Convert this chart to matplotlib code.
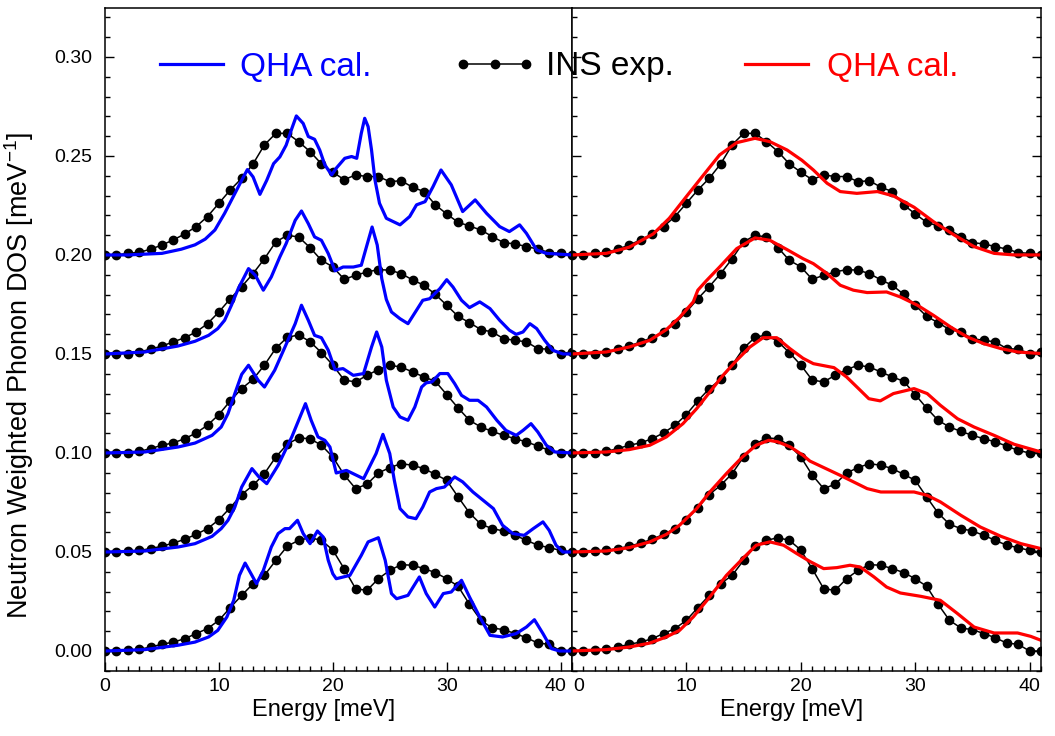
import numpy as np
import matplotlib
matplotlib.use('Agg')
import matplotlib.pyplot as plt
import matplotlib.transforms as mtransforms
from matplotlib.lines import Line2D
from matplotlib.ticker import MultipleLocator, FormatStrFormatter

plt.rcParams['font.family'] = ['Liberation Sans', 'DejaVu Sans']
plt.rcParams['mathtext.fontset'] = 'custom'
plt.rcParams['mathtext.rm'] = 'Liberation Sans'

# curves are stacked with these vertical offsets (bottom to top)
offsets = [0.0, 0.05, 0.10, 0.15, 0.20]

# INS experiment, same in both panels, one point per meV
E_exp = np.arange(0, 42)
exp_1 = [0, 0, 0.0003, 0.0008, 0.002, 0.0034, 0.0045, 0.0062, 0.0088, 0.0113, 0.0155, 0.0219, 0.0281, 0.034,
         0.0382, 0.0458, 0.0529, 0.0559, 0.0572, 0.0559, 0.051, 0.0415, 0.0315, 0.0306, 0.0365, 0.0407, 0.0436,
         0.0433, 0.0416, 0.0396, 0.0365, 0.0327, 0.0236, 0.0155, 0.0116, 0.0108, 0.0088, 0.0067, 0.004, 0.0034, 0, 0]
exp_2 = [0, 0, 0.0005, 0.0008, 0.0017, 0.0029, 0.0045, 0.0064, 0.0089, 0.0118, 0.0163, 0.0224, 0.029, 0.0337,
         0.0396, 0.048, 0.0544, 0.0576, 0.0572, 0.0539, 0.048, 0.0389, 0.032, 0.0342, 0.0399, 0.0426, 0.0446,
         0.0438, 0.0421, 0.0392, 0.0362, 0.0278, 0.0197, 0.014, 0.0118, 0.0106, 0.0084, 0.0059, 0.0034, 0.0022, 0.0008, 0]
exp_3 = [0, 0, 0.0002, 0.0008, 0.0022, 0.0039, 0.0051, 0.0072, 0.0101, 0.014, 0.0194, 0.0263, 0.0325, 0.0372,
         0.0444, 0.0529, 0.0584, 0.0596, 0.0562, 0.0507, 0.0444, 0.0368, 0.0359, 0.0392, 0.0421, 0.0443, 0.0434,
         0.0409, 0.0384, 0.0362, 0.0295, 0.0227, 0.0165, 0.0131, 0.0109, 0.0089, 0.0072, 0.0056, 0.0035, 0.0013, 0, 0]
exp_4 = [0, 0, 0.0002, 0.001, 0.0024, 0.004, 0.0061, 0.0082, 0.0111, 0.0153, 0.0212, 0.0279, 0.034, 0.0406,
         0.0481, 0.0566, 0.0599, 0.0591, 0.0537, 0.0473, 0.044, 0.0377, 0.0397, 0.0414, 0.0426, 0.0423, 0.0406,
         0.0374, 0.0347, 0.0301, 0.0246, 0.019, 0.0158, 0.0123, 0.0111, 0.0077, 0.0069, 0.0061, 0.0027, 0.0024, 0.0002, 0.001]
exp_5 = [0, 0, 0.0008, 0.0013, 0.0029, 0.005, 0.0076, 0.0106, 0.0143, 0.0194, 0.0261, 0.0328, 0.0387, 0.046,
         0.0556, 0.0614, 0.0614, 0.0572, 0.0522, 0.046, 0.0418, 0.038, 0.0404, 0.0396, 0.0396, 0.037, 0.0375,
         0.0342, 0.032, 0.0253, 0.0207, 0.0165, 0.0146, 0.0126, 0.0093, 0.0062, 0.0056, 0.0042, 0.003, 0.0012, 0.0008, 0]

# QHA calculation, left panel (blue)
Eb_1 = [0, 3.5, 6.4, 7.9, 9.1, 9.9, 10.7, 11.3, 11.8, 12.3, 12.9, 13.3, 13.9, 14.6, 15.2, 15.8, 16.2, 16.9, 17.4,
        18.0, 18.65, 19.15, 19.6, 20.0, 20.3, 21.5, 22.5, 23.1, 24.0, 24.6, 25.15, 25.6, 26.6, 27.05, 27.6, 28.2,
        28.95, 29.7, 30.4, 31.3, 32.0, 32.9, 33.8, 34.9, 36.1, 37.0, 37.7, 38.45, 39.2, 39.9, 41.0]
Vb_1 = [0, 0.0007, 0.0029, 0.0045, 0.0071, 0.0104, 0.0172, 0.0256, 0.0382, 0.0444, 0.0382, 0.034, 0.0407, 0.0525,
        0.0593, 0.0618, 0.0618, 0.066, 0.0593, 0.0542, 0.0606, 0.0576, 0.0458, 0.039, 0.0365, 0.0382, 0.0483,
        0.0551, 0.0572, 0.0458, 0.029, 0.0264, 0.0281, 0.0323, 0.0374, 0.029, 0.0222, 0.029, 0.0298, 0.0357,
        0.0273, 0.0172, 0.0079, 0.0071, 0.0088, 0.0121, 0.0158, 0.0088, 0.0012, 0, 0]
Eb_2 = [0, 3.5, 6.4, 7.9, 9.4, 10.2, 10.8, 11.4, 12.0, 12.9, 13.5, 14.2, 15.2, 16.4, 17.0, 17.6, 18.1, 18.7, 19.3,
        19.75, 20.3, 21.2, 22.7, 23.8, 24.4, 25.0, 25.4, 25.9, 26.6, 27.3, 27.9, 28.5, 29.1, 29.8, 30.7, 31.4,
        32.3, 33.2, 34.1, 34.9, 35.8, 36.8, 37.6, 38.45, 39.0, 39.6, 40.2, 41.0]
Vb_2 = [0, 0.0005, 0.0025, 0.0042, 0.0079, 0.0118, 0.016, 0.0227, 0.0328, 0.0421, 0.038, 0.0345, 0.0438, 0.0581,
        0.0665, 0.0749, 0.0665, 0.0581, 0.0564, 0.053, 0.0399, 0.0412, 0.037, 0.0497, 0.0594, 0.0497, 0.0362,
        0.0219, 0.0177, 0.0168, 0.0227, 0.0303, 0.032, 0.0328, 0.0379, 0.0354, 0.0303, 0.0261, 0.0219, 0.0135,
        0.0093, 0.0084, 0.0118, 0.0152, 0.0109, 0.0034, 0, 0]
Eb_3 = [0, 3.5, 6.4, 7.9, 9.4, 10.2, 10.8, 11.4, 12.0, 12.6, 13.45, 14.0, 14.9, 15.8, 16.7, 17.25, 17.85, 18.4,
        19.0, 19.6, 20.2, 20.9, 21.8, 22.7, 23.4, 23.85, 24.3, 24.7, 25.3, 25.9, 26.6, 27.2, 27.8, 28.2, 28.7,
        29.4, 30.1, 30.7, 31.3, 32.0, 32.75, 33.5, 34.4, 35.2, 36.1, 36.7, 37.4, 38.0, 38.75, 39.5, 41.0]
Vb_3 = [0, 0.0005, 0.003, 0.005, 0.0089, 0.0131, 0.0199, 0.03, 0.0397, 0.0443, 0.0367, 0.0333, 0.0418, 0.0535,
        0.0653, 0.0746, 0.067, 0.0594, 0.0582, 0.0519, 0.042, 0.0426, 0.0392, 0.0401, 0.0535, 0.0611, 0.0535,
        0.0367, 0.0232, 0.0182, 0.0165, 0.0232, 0.0333, 0.0354, 0.0359, 0.0401, 0.0401, 0.035, 0.0291, 0.0266,
        0.0266, 0.0232, 0.0165, 0.0114, 0.0089, 0.0114, 0.0148, 0.0106, 0.0039, 0.0005, 0]
Eb_4 = [0, 3.5, 6.4, 7.9, 9.1, 9.9, 10.5, 11.1, 11.7, 12.6, 13.2, 13.9, 14.6, 15.35, 15.9, 16.7, 17.25, 17.85,
        18.4, 19.0, 19.6, 20.2, 20.9, 21.8, 22.5, 22.95, 23.45, 23.9, 24.3, 24.7, 25.15, 25.9, 26.6, 27.35, 27.9,
        28.5, 29.4, 30.0, 30.55, 31.3, 32.0, 32.9, 33.8, 34.65, 35.5, 36.1, 36.7, 37.3, 37.9, 38.6, 39.3, 40.2, 41.0]
Vb_4 = [0, 0.001, 0.004, 0.0064, 0.0094, 0.0128, 0.017, 0.0246, 0.033, 0.0431, 0.0397, 0.0322, 0.0389, 0.049,
        0.0557, 0.0675, 0.0722, 0.0658, 0.0591, 0.0574, 0.0507, 0.042, 0.0439, 0.0439, 0.0448, 0.054, 0.0641,
        0.055, 0.038, 0.0275, 0.0212, 0.0178, 0.0153, 0.0221, 0.0271, 0.0279, 0.033, 0.0375, 0.0338, 0.0271,
        0.0234, 0.0263, 0.0229, 0.017, 0.012, 0.0099, 0.0111, 0.0153, 0.0128, 0.0069, 0.0019, 0, 0]
Eb_5 = [0, 2.0, 5.0, 6.7, 7.9, 8.8, 9.65, 10.5, 11.4, 12.0, 12.5, 13.0, 13.6, 14.2, 14.8, 15.35, 15.9, 16.4, 16.8,
        17.4, 17.85, 18.4, 18.85, 19.3, 19.9, 20.3, 21.05, 21.65, 22.1, 22.5, 22.8, 23.1, 23.4, 23.7, 24.1, 24.7,
        25.9, 26.75, 27.35, 28.1, 28.8, 29.5, 30.4, 31.4, 32.5, 33.5, 34.65, 35.5, 36.4, 37.0, 37.9, 38.75, 41.0]
Vb_5 = [0, 0, 0.0008, 0.0029, 0.0051, 0.008, 0.0126, 0.021, 0.031, 0.0377, 0.0431, 0.0394, 0.0306, 0.0377,
        0.0461, 0.0495, 0.0554, 0.0638, 0.0702, 0.0664, 0.0598, 0.0584, 0.053, 0.0455, 0.0404, 0.0438, 0.0488,
        0.0497, 0.0488, 0.0614, 0.069, 0.0648, 0.053, 0.0379, 0.0261, 0.0185, 0.0152, 0.0194, 0.0253, 0.0269,
        0.0345, 0.0429, 0.0354, 0.0219, 0.0278, 0.021, 0.0143, 0.0118, 0.0152, 0.0109, 0.0025, 0.0008, 0]

# QHA calculation, right panel (red)
Er_1 = [0, 3.0, 5.0, 6.8, 8.25, 9.4, 10.6, 12.05, 13.5, 15.0, 16.1, 17.3, 18.5, 19.65, 20.8, 22.0, 23.15, 24.3,
        25.2, 26.4, 27.5, 28.7, 30.5, 32.2, 33.7, 35.15, 36.9, 38.95, 40.1, 41.0]
Vr_1 = [0, 0.0007, 0.002, 0.004, 0.0071, 0.0104, 0.0172, 0.0273, 0.0382, 0.0471, 0.0534, 0.0551, 0.0534, 0.0492,
        0.0452, 0.0416, 0.0421, 0.0433, 0.0424, 0.0374, 0.0323, 0.0293, 0.0276, 0.0256, 0.0189, 0.0121, 0.0091,
        0.0091, 0.0074, 0.0054]
Er_2 = [0, 3.0, 5.0, 6.8, 8.25, 9.4, 10.9, 12.05, 13.5, 14.9, 16.1, 17.2, 18.0, 19.1, 20.2, 20.8, 23.45, 25.8,
        27.0, 29.9, 31.05, 32.2, 34.0, 35.7, 37.5, 39.25, 41.0]
Vr_2 = [0, 0.0005, 0.0022, 0.0051, 0.0089, 0.0135, 0.0219, 0.0303, 0.0396, 0.048, 0.0539, 0.0564, 0.0556, 0.053,
        0.0488, 0.0459, 0.0387, 0.032, 0.0303, 0.0303, 0.0286, 0.0253, 0.0185, 0.0126, 0.0079, 0.0042, 0.0017]
Er_3 = [0, 3.0, 5.0, 6.8, 8.25, 9.7, 10.9, 12.05, 13.2, 14.4, 15.55, 16.7, 17.9, 19.05, 20.2, 21.1, 22.9, 24.0,
        25.05, 25.95, 26.95, 28.1, 29.9, 31.05, 32.2, 33.7, 35.15, 36.9, 38.65, 41.0]
Vr_3 = [0, 0.0005, 0.0017, 0.0039, 0.0081, 0.0148, 0.0224, 0.0308, 0.0392, 0.0468, 0.0535, 0.0582, 0.0582, 0.0527,
        0.0478, 0.0451, 0.0431, 0.0384, 0.0325, 0.0274, 0.0263, 0.03, 0.0325, 0.03, 0.0241, 0.0173, 0.0131,
        0.0089, 0.0044, 0.0005]
Er_4 = [0, 3.0, 5.0, 6.8, 8.25, 9.4, 10.6, 11.0, 11.75, 12.9, 14.4, 16.0, 17.3, 18.8, 20.2, 21.1, 22.3, 23.45,
        24.6, 25.8, 27.5, 28.7, 30.2, 31.6, 33.1, 34.55, 36.0, 37.5, 38.95, 41.0]
Vr_4 = [0, 0.001, 0.0035, 0.0069, 0.0123, 0.0184, 0.0263, 0.0322, 0.037, 0.0439, 0.0532, 0.0586, 0.0574, 0.0527,
        0.0481, 0.0456, 0.0406, 0.0347, 0.0322, 0.031, 0.0313, 0.0288, 0.0246, 0.0195, 0.0136, 0.0086, 0.0052,
        0.0027, 0.001, 0.0002]
Er_5 = [0, 3.0, 5.0, 7.1, 8.5, 10.0, 11.5, 12.9, 14.4, 16.0, 17.3, 18.8, 20.1, 21.1, 22.3, 23.45, 24.9, 26.7,
        28.1, 29.9, 31.6, 33.4, 35.15, 36.9, 38.65, 41.0]
Vr_5 = [0, 0.0008, 0.0039, 0.0106, 0.0185, 0.0295, 0.0404, 0.0505, 0.0567, 0.0589, 0.0572, 0.053, 0.0478, 0.0429,
        0.0362, 0.032, 0.0311, 0.032, 0.0298, 0.0241, 0.0168, 0.0101, 0.0042, 0.0008, 0, 0]

exp_sets = [exp_1, exp_2, exp_3, exp_4, exp_5]
blue_sets = [(Eb_1, Vb_1), (Eb_2, Vb_2), (Eb_3, Vb_3), (Eb_4, Vb_4), (Eb_5, Vb_5)]
red_sets = [(Er_1, Vr_1), (Er_2, Vr_2), (Er_3, Vr_3), (Er_4, Vr_4), (Er_5, Vr_5)]

fig = plt.figure(figsize=(10.55, 7.36), dpi=100)
ax1 = fig.add_axes([105/1055, 65/736, 467/1055, 663/736])
ax2 = fig.add_axes([572/1055, 65/736, 469/1055, 663/736])

for i, off in enumerate(offsets):
    y_exp = np.array(exp_sets[i]) + off
    for ax in (ax1, ax2):
        ax.plot(E_exp, y_exp, '-o', color='black', linewidth=1.1, markersize=6)
    Eb, Vb = blue_sets[i]
    ax1.plot(Eb, np.array(Vb) + off, color='#0000FF', linewidth=2.3, solid_joinstyle='round')
    Er, Vr = red_sets[i]
    ax2.plot(Er, np.array(Vr) + off, color='#FF0000', linewidth=2.3, solid_joinstyle='round')

for ax in (ax1, ax2):
    ax.set_xlim(0, 41)
    ax.set_ylim(-0.0101, 0.3247)
    ax.xaxis.set_major_locator(MultipleLocator(10))
    ax.xaxis.set_minor_locator(MultipleLocator(1))
    ax.yaxis.set_major_locator(MultipleLocator(0.05))
    ax.yaxis.set_minor_locator(MultipleLocator(0.01))
    ax.tick_params(which='both', direction='in', labelsize=14, width=1.0)
    ax.tick_params(which='major', length=6.5)
    ax.tick_params(which='minor', length=3.5)
    ax.tick_params(axis='x', pad=5)
    for s in ax.spines.values():
        s.set_linewidth(1.1)
    ax.set_xlabel('Energy [meV]', fontsize=17, labelpad=3)
    ax.xaxis.label.set_x(0.468)

ax1.tick_params(axis='y', pad=9)
ax1.yaxis.set_major_formatter(FormatStrFormatter('%.2f'))
ax1.set_ylabel('Neutron Weighted Phonon DOS [meV$^{\\mathregular{-1}}$]', fontsize=19.5)
ax1.yaxis.set_label_coords(-0.148, 0.446)
ax2.tick_params(axis='y', which='both', left=True, right=True, labelleft=False)

# legend: three separate entries along the top
legend_items = [
    (Line2D([], [], color='#0000FF', linewidth=2.3), 'QHA cal.', '#0000FF', 150, 0.2),
    (Line2D([], [], color='black', linewidth=1.1, marker='o', markersize=6), 'INS exp.', 'black', 453, 0.3),
    (Line2D([], [], color='#FF0000', linewidth=2.3), 'QHA cal.', '#FF0000', 735, 0.25),
]
for h, lab, col, x0, pad in legend_items:
    lg = fig.legend([h], [lab], loc='center left', bbox_to_anchor=(x0/1055, 1 - 67/736),
                    frameon=False, fontsize=24, handlelength=2.5, handletextpad=pad,
                    borderpad=0, borderaxespad=0, numpoints=3)
    lg.get_texts()[0].set_color(col)

# nudge the touching "40" / "0" tick labels apart
fig.canvas.draw()
for tick in ax1.xaxis.get_major_ticks():
    if abs(tick.get_loc() - 40) < 1e-6:
        tick.label1.set_transform(tick.label1.get_transform() +
                                  mtransforms.ScaledTranslation(-5/100, 0, fig.dpi_scale_trans))
for tick in ax2.xaxis.get_major_ticks():
    if abs(tick.get_loc()) < 1e-6:
        tick.label1.set_transform(tick.label1.get_transform() +
                                  mtransforms.ScaledTranslation(7/100, 0, fig.dpi_scale_trans))

fig.savefig('out.png', dpi=100)
